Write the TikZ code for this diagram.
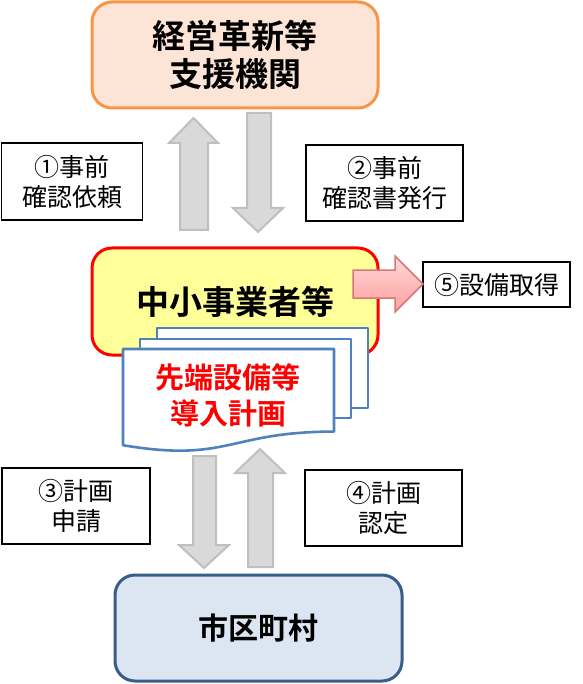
\documentclass[tikz,border=0pt]{standalone}
\usepackage{fontspec}
\setmainfont{Noto Sans CJK JP}[BoldFont={Noto Sans CJK JP Bold}]
\usepackage{tikz}
\definecolor{orgline}{HTML}{F79646}
\definecolor{orgfill}{HTML}{FCE4D6}
\definecolor{yelfill}{HTML}{FFFF99}
\definecolor{bluline}{HTML}{385D8A}
\definecolor{blufill}{HTML}{DCE6F2}
\definecolor{pageline}{HTML}{4F81BD}
\definecolor{arrline}{HTML}{BFBFBF}
\definecolor{arrfill}{HTML}{D9D9D9}
\definecolor{pinkline}{HTML}{D47876}
\tikzset{
  mainbox/.style={rounded corners=20pt, line width=3pt, minimum width=286pt,
    minimum height=106pt, align=center,
    font=\fontsize{33}{38}\selectfont\bfseries},
  labelbox/.style={draw=black, line width=1.6pt, fill=white, align=center,
    font=\fontsize{25}{30}\selectfont},
  grayarrow/.style={draw=arrline, fill=arrfill, line width=2pt, line join=miter},
  pagebox/.style={draw=pageline, fill=white, line width=2.6pt, line join=round}
}
\begin{document}
\begin{tikzpicture}[x=1pt,y=-1pt]
        \useasboundingbox (0,0) rectangle (582,684);
        % boxes
        \node (shien) [mainbox, draw=orgline, fill=orgfill] at (235,55) {経営革新等\\支援機関};
        \node (lab1) [labelbox, minimum width=141pt, minimum height=77pt] at (72,181.5) {①事前\\確認依頼};
        \node (lab2) [labelbox, minimum width=157pt, minimum height=76pt] at (384.5,183) {②事前\\確認書発行};
        \node (lab3) [labelbox, minimum width=148pt, minimum height=76pt] at (76,506) {③計画\\申請};
        \node (lab4) [labelbox, minimum width=157pt, minimum height=76pt] at (383.5,508) {④計画\\認定};
        \node (lab5) [labelbox, minimum width=147pt, minimum height=45pt] at (496.5,284.5) {⑤設備取得};
        \node (chusho) [mainbox, draw=red, fill=yelfill, minimum height=107pt] at (235,301.5) {中小事業者等};
        \node (shiku) [mainbox, draw=bluline, fill=blufill, minimum width=287pt,
                font=\fontsize{30}{36}\selectfont\bfseries] at (258.5,628) {市区町村};
        % block arrows
        \draw[grayarrow] (180,230) -- (180,143) -- (169,143) -- (193.5,118) -- (218,143) -- (208,143) -- (208,230) -- cycle;
        \draw[grayarrow] (247,113) -- (247,208) -- (233,208) -- (258,232) -- (283,208) -- (271,208) -- (271,113) -- cycle;
        \draw[grayarrow] (193,456) -- (193,545) -- (179,545) -- (204,568) -- (229,545) -- (216,545) -- (216,456) -- cycle;
        \draw[grayarrow] (248,567) -- (248,473) -- (235,473) -- (260,449) -- (285,473) -- (273,473) -- (273,567) -- cycle;
        \draw[pinkline, line width=1.5pt, top color=red!15, bottom color=red!38]
                (353,270) -- (395,270) -- (395,256) -- (423,284) -- (395,312) -- (395,298) -- (353,298) -- cycle;
        % document stack
        \draw[pagebox] (157,328) rectangle (368,408);
        \draw[pagebox] (140,339) rectangle (351,418);
        \draw[pagebox] (123,349) -- (334,349) -- (334,431.6)
                .. controls (228.5,431.6) and (228.5,463) .. (123,445.2) -- cycle;
        \node (keikaku) [align=center, text=red, font=\fontsize{29}{36}\selectfont\bfseries] at (228,395) {先端設備等\\導入計画};
\end{tikzpicture}
\end{document}
